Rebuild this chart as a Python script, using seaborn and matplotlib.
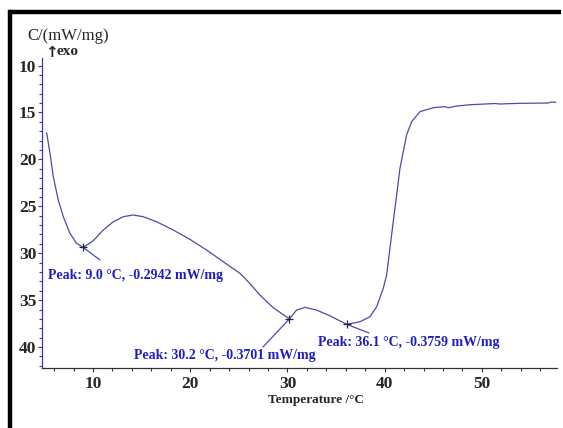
import matplotlib
matplotlib.use("Agg")
import matplotlib.pyplot as plt
import seaborn as sns
import pandas as pd
from matplotlib.lines import Line2D
from matplotlib.ticker import MultipleLocator

# ---- data ----
temperature = [5.24, 5.58, 5.92, 6.43, 6.95, 7.63, 8.32, 9.0, 10.03, 11.06, 12.09, 13.12,
               14.14, 15.17, 16.55, 18.26, 19.97, 21.69, 23.4, 25.12, 25.97, 27.17, 28.54,
               30.2, 30.94, 31.8, 33.0, 34.37, 36.1, 37.46, 38.48, 39.17, 39.85, 40.2,
               40.54, 40.88, 41.23, 41.57, 41.91, 42.25, 42.77, 43.62, 44.99, 46.19,
               46.53, 47.4, 48.77, 51.34, 51.85, 53.9, 56.8, 57.1, 57.6]
signal = [17.16, 19.36, 21.85, 24.33, 26.11, 27.88, 28.95, 29.38, 28.67, 27.53, 26.65, 26.11,
          25.93, 26.11, 26.65, 27.53, 28.52, 29.66, 30.91, 32.15, 33.04, 34.46, 35.81,
          37.0, 36.06, 35.77, 36.06, 36.67, 37.58, 37.3, 36.77, 35.71, 33.75, 32.33,
          29.48, 26.65, 23.8, 20.96, 19.19, 17.41, 15.99, 14.92, 14.5, 14.39,
          14.5, 14.32, 14.18, 14.05, 14.1, 14.03, 14.0, 13.89, 13.92]

peak_temps = [9.0, 30.2, 36.1]
peak_vals = [29.38, 37.0, 37.58]
peak_labels = ["Peak: 9.0 °C, -0.2942 mW/mg",
               "Peak: 30.2 °C, -0.3701 mW/mg",
               "Peak: 36.1 °C, -0.3759 mW/mg"]
leader_end_x = [10.72, 27.48, 38.38]
leader_end_y = [30.73, 40.0, 38.5]
label_x = [5.37, 14.22, 33.14]
label_y = [32.33, 40.85, 39.47]

x_ticks = [10, 20, 30, 40, 50]
y_ticks = [10, 15, 20, 25, 30, 35, 40]

df = pd.DataFrame({"Temperature": temperature, "Signal": signal})

sns.set_style("white")
plt.rcParams["font.family"] = ["Liberation Serif", "DejaVu Serif"]

fig = plt.figure(figsize=(5.63, 4.28), dpi=100)
fig.patch.set_facecolor("white")
fig.patch.set_edgecolor("white")
ax = fig.add_axes([0.0746, 0.140, 0.9144, 0.7245])

curve_color = "#4b4ba8"
text_blue = "#1f1fc0"

sns.lineplot(data=df, x="Temperature", y="Signal", ax=ax, color=curve_color,
             linewidth=0.9, sort=False)

# peak markers and leader lines
for px, py, ex, ey, lx, ly, lab in zip(peak_temps, peak_vals, leader_end_x, leader_end_y,
                                       label_x, label_y, peak_labels):
    ax.plot([px, ex], [py, ey], color=curve_color, linewidth=0.9)
    ax.plot([px], [py], marker="+", color="#222244", markersize=6, markeredgewidth=0.9)
    ax.text(lx, ly, lab, color=text_blue, fontsize=10, fontweight="bold",
            ha="left", va="center")

ax.set_xlim(4.76, 57.7)
ax.set_ylim(42.24, 9.2)
ax.set_xticks(x_ticks)
ax.set_yticks(y_ticks)
ax.xaxis.set_minor_locator(MultipleLocator(2))
ax.yaxis.set_minor_locator(MultipleLocator(1))

for s in ["top", "right"]:
    ax.spines[s].set_visible(False)
ax.spines["left"].set_color("#3a3ab0")
ax.spines["left"].set_linewidth(0.9)
ax.spines["bottom"].set_color("#333333")
ax.spines["bottom"].set_linewidth(0.9)

ax.tick_params(axis="x", which="major", direction="out", length=3, width=0.8,
               color="#333333", labelsize=12.5, pad=3, bottom=True)
ax.tick_params(axis="x", which="minor", direction="out", length=2.5, width=0.8,
               color="#333333", bottom=True)
ax.tick_params(axis="y", which="major", direction="out", length=3, width=0.8,
               color="#3a3ab0", labelsize=12.5, pad=1, left=True)
ax.tick_params(axis="y", which="minor", direction="out", length=2.5, width=0.8,
               color="#3a3ab0", left=True)
for lbl in ax.get_xticklabels() + ax.get_yticklabels():
    lbl.set_fontweight("bold")

ax.set_xlabel("")
ax.set_ylabel("")
fig.text(0.561, 0.066, "Temperature /°C", fontsize=9.5, fontweight="bold",
         ha="center", va="center")
fig.text(0.048, 0.917, "C/(mW/mg)", fontsize=12, ha="left", va="center")
fig.text(0.080, 0.877, "↑", fontsize=11, fontweight="bold", ha="left", va="center",
         family=["DejaVu Sans"])
fig.text(0.100, 0.879, "exo", fontsize=11, fontweight="bold", ha="left", va="center")

# outer frame (top and left only)
fig.add_artist(Line2D([0.018, 0.997], [0.973, 0.973], transform=fig.transFigure,
                      color="black", linewidth=3.2, solid_capstyle="butt"))
fig.add_artist(Line2D([0.018, 0.018], [0.0, 0.973], transform=fig.transFigure,
                      color="black", linewidth=3.2, solid_capstyle="projecting"))

fig.savefig("out.png", dpi=100)
